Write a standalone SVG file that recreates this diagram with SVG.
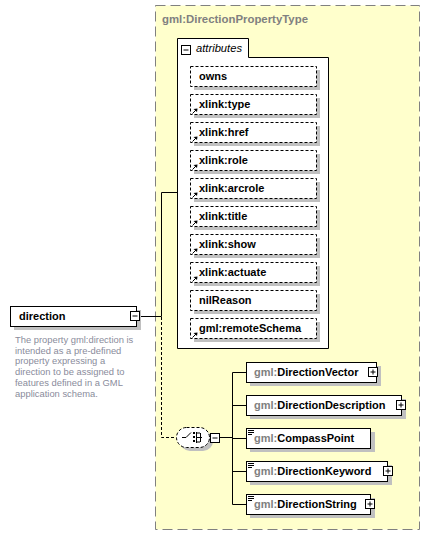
<svg xmlns="http://www.w3.org/2000/svg" width="430" height="536" viewBox="0 0 430 536">
<style>
.t{font-family:"Liberation Sans",Arial,sans-serif;font-size:11px;font-weight:bold;fill:#000}
.g{fill:#808080}
.sh{fill:#c0c0c0}
.box{fill:#fff;stroke:#000;stroke-width:1}
.att{fill:#fff;stroke:#000;stroke-width:1;stroke-dasharray:3,2}
.ln{fill:none;stroke:#000;stroke-width:1}
.dl{fill:none;stroke:#000;stroke-width:1;stroke-dasharray:3,2}
.desc{font-family:"Liberation Sans",Arial,sans-serif;font-size:9.4px;fill:#8a8c9c}
</style>
<defs>
<g id="xl"><path d="M2.5,9.5 L6.5,5.5" stroke="#000" stroke-width="1"/><path d="M7.5,4.5 L3.5,5 L7,8 Z" fill="#000"/></g>
<g id="plus"><rect x="0.5" y="0.5" width="9" height="9" fill="#fff" stroke="#000"/><path d="M2.5,5 H7.5 M5,2.5 V7.5" stroke="#000"/></g>
<g id="minus"><rect x="0.5" y="0.5" width="9" height="9" fill="#fff" stroke="#000"/><path d="M2.5,5 H7.5" stroke="#000"/></g>
<g id="lines"><path d="M0,0.5 H6 M0,2.5 H6 M0,4.5 H4" stroke="#000" stroke-width="1"/></g>
</defs>

<g id="type">
<rect x="155.5" y="5.5" width="264" height="524" fill="#ffffcc" stroke="#808080" stroke-dasharray="10,5"/>
<text x="162" y="23" class="t g" textLength="146" lengthAdjust="spacingAndGlyphs">gml:DirectionPropertyType</text>
</g>

<g id="connectors">
<path class="ln" d="M141,316.5 H161.5 V192.5 H177"/>
<path class="dl" d="M161.5,317 V437.5 H176"/>
<path class="ln" d="M220,437.5 H232.5 M232.5,372.5 V504.5 M232.5,372.5 H246 M232.5,405.5 H246 M232.5,438.5 H246 M232.5,471.5 H246 M232.5,504.5 H246"/>
</g>

<g id="attributes">
<path class="box" d="M177.5,348.5 V38.5 H248.5 V57.5 H328.5 V348.5 Z"/>
<use href="#minus" x="181" y="45"/>
<text x="196" y="52" style="font-family:'Liberation Sans',Arial,sans-serif;font-size:11px;font-style:italic" textLength="46" lengthAdjust="spacingAndGlyphs">attributes</text>
</g>

<g id="att-owns"><rect class="sh" x="194" y="70" width="126" height="20"/><rect class="att" x="190.5" y="66.5" width="126" height="20"/><text class="t" x="199" y="80">owns</text></g>
<g id="att-type"><rect class="sh" x="194" y="98" width="126" height="20"/><rect class="att" x="190.5" y="94.5" width="126" height="20"/><use href="#xl" x="190" y="104"/><text class="t" x="199" y="108">xlink:type</text></g>
<g id="att-href"><rect class="sh" x="194" y="126" width="126" height="20"/><rect class="att" x="190.5" y="122.5" width="126" height="20"/><use href="#xl" x="190" y="132"/><text class="t" x="199" y="136">xlink:href</text></g>
<g id="att-role"><rect class="sh" x="194" y="154" width="126" height="20"/><rect class="att" x="190.5" y="150.5" width="126" height="20"/><use href="#xl" x="190" y="160"/><text class="t" x="199" y="164">xlink:role</text></g>
<g id="att-arcrole"><rect class="sh" x="194" y="182" width="126" height="20"/><rect class="att" x="190.5" y="178.5" width="126" height="20"/><use href="#xl" x="190" y="188"/><text class="t" x="199" y="192">xlink:arcrole</text></g>
<g id="att-title"><rect class="sh" x="194" y="210" width="126" height="20"/><rect class="att" x="190.5" y="206.5" width="126" height="20"/><use href="#xl" x="190" y="216"/><text class="t" x="199" y="220">xlink:title</text></g>
<g id="att-show"><rect class="sh" x="194" y="238" width="126" height="20"/><rect class="att" x="190.5" y="234.5" width="126" height="20"/><use href="#xl" x="190" y="244"/><text class="t" x="199" y="248">xlink:show</text></g>
<g id="att-actuate"><rect class="sh" x="194" y="266" width="126" height="20"/><rect class="att" x="190.5" y="262.5" width="126" height="20"/><use href="#xl" x="190" y="272"/><text class="t" x="199" y="276">xlink:actuate</text></g>
<g id="att-nilReason"><rect class="sh" x="194" y="294" width="126" height="20"/><rect class="att" x="190.5" y="290.5" width="126" height="20"/><text class="t" x="199" y="304">nilReason</text></g>
<g id="att-remoteSchema"><rect class="sh" x="194" y="322" width="126" height="20"/><rect class="att" x="190.5" y="318.5" width="126" height="20"/><use href="#xl" x="190" y="328"/><text class="t" x="199" y="332">gml:remoteSchema</text></g>

<g id="direction">
<rect class="sh" x="14" y="310" width="127" height="20"/>
<rect class="box" x="10.5" y="306.5" width="126" height="20"/>
<text class="t" x="19" y="320">direction</text>
<use href="#minus" x="130" y="311"/>
<text class="desc"><tspan x="15" y="343">The property gml:direction is</tspan><tspan x="15" y="353.7">intended as a pre-defined</tspan><tspan x="15" y="364.4">property expressing a</tspan><tspan x="15" y="375.1">direction to be assigned to</tspan><tspan x="15" y="385.8">features defined in a GML</tspan><tspan x="15" y="396.5">application schema.</tspan></text>
</g>

<g id="choice">
<rect class="sh" x="180" y="431" width="33" height="20" rx="10"/>
<rect x="176.5" y="427.5" width="33" height="20" rx="10" fill="#fff" stroke="#000" stroke-dasharray="3,2"/>
<path d="M182,437.5 H186 L191,432.5" fill="none" stroke="#000"/>
<path d="M193,432 h2 v2 h-2 z M193,436 h2 v2 h-2 z M193,440 h2 v2 h-2 z" fill="#000"/>
<path d="M196.5,432 V443 M196.5,433 H200 M196.5,437.5 H202 M196.5,442 H200 M200.5,433 V442" fill="none" stroke="#000"/>
<use href="#minus" x="210" y="433"/>
</g>

<g id="DirectionVector">
<rect class="sh" x="250" y="366" width="131" height="20"/>
<rect class="box" x="246.5" y="362.5" width="130" height="20"/>
<text class="t" x="254" y="376"><tspan class="g">gml:</tspan>DirectionVector</text>
<use href="#plus" x="368" y="367"/>
</g>
<g id="DirectionDescription">
<rect class="sh" x="250" y="399" width="156" height="20"/>
<rect class="box" x="246.5" y="395.5" width="155" height="20"/>
<text class="t" x="254" y="409"><tspan class="g">gml:</tspan>DirectionDescription</text>
<use href="#plus" x="396" y="400"/>
</g>
<g id="CompassPoint">
<rect class="sh" x="250" y="432" width="125" height="20"/>
<rect class="box" x="246.5" y="428.5" width="124" height="20"/>
<use href="#lines" x="248" y="430"/>
<text class="t" x="254" y="442"><tspan class="g">gml:</tspan>CompassPoint</text>
</g>
<g id="DirectionKeyword">
<rect class="sh" x="250" y="465" width="142" height="20"/>
<rect class="box" x="246.5" y="461.5" width="141" height="20"/>
<use href="#lines" x="248" y="463"/>
<text class="t" x="254" y="475"><tspan class="g">gml:</tspan>DirectionKeyword</text>
<use href="#plus" x="383" y="466"/>
</g>
<g id="DirectionString">
<rect class="sh" x="250" y="498" width="125" height="20"/>
<rect class="box" x="246.5" y="494.5" width="124" height="20"/>
<use href="#lines" x="248" y="496"/>
<text class="t" x="254" y="508"><tspan class="g">gml:</tspan>DirectionString</text>
<use href="#plus" x="365" y="499"/>
</g>
</svg>
